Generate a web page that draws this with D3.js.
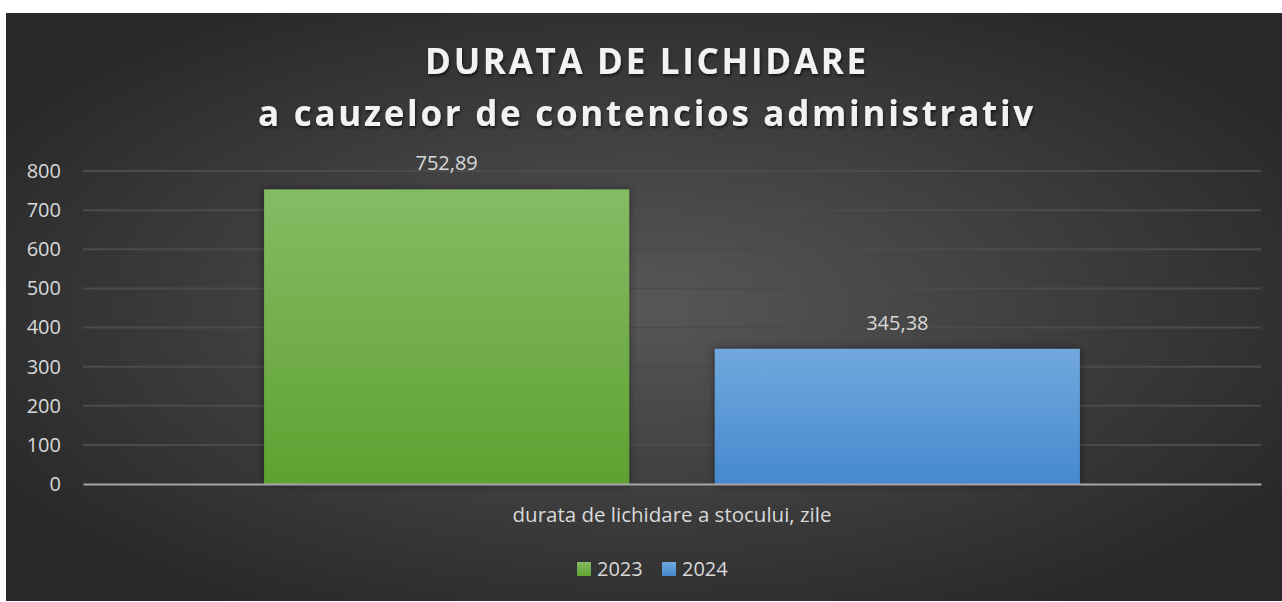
<!DOCTYPE html>
<html lang="ro">
<meta charset="utf-8">
<head>
    <title>Durata de lichidare</title>
    <script src="https://d3js.org/d3.v7.min.js"></script>
    <style>
        body { margin: 0; background: #fff; }
        svg { display: block; }
    </style>
</head>
<body>
    <div id="plot"></div>
    <script>
        // data
        var categories = ["durata de lichidare a stocului, zile"];
        var seriesNames = ["2023", "2024"];
        var values2023 = [752.89];
        var values2024 = [345.38];
        var yTicks = [0, 100, 200, 300, 400, 500, 600, 700, 800];
        var titleLines = ["DURATA DE LICHIDARE", "a cauzelor de contencios administrativ"];

        var colors = { "2023": ["#85bb64", "#5fa131"], "2024": ["#70a8dd", "#4689cf"] };

        var W = 1282, H = 602;
        var chart = { x: 6, y: 13, w: 1276, h: 588 };
        var margin = { top: 171, left: 83, right: 21, bottom: 118 };
        var width = W - margin.left - margin.right,
            height = H - margin.top - margin.bottom;

        var svg = d3.select("#plot").append("svg")
            .attr("width", W).attr("height", H);

        var defs = svg.append("defs");
        var bg = defs.append("radialGradient").attr("id", "bg")
            .attr("cx", "0.5").attr("cy", "0.5").attr("r", "0.6");
        bg.append("stop").attr("offset", "0%").attr("stop-color", "#575757");
        bg.append("stop").attr("offset", "100%").attr("stop-color", "#282828");

        seriesNames.forEach(function (s) {
            var g = defs.append("linearGradient").attr("id", "g" + s)
                .attr("x1", 0).attr("y1", 0).attr("x2", 0).attr("y2", 1);
            g.append("stop").attr("offset", "0%").attr("stop-color", colors[s][0]);
            g.append("stop").attr("offset", "100%").attr("stop-color", colors[s][1]);
        });

        var shadow = defs.append("filter").attr("id", "shadow")
            .attr("x", "-10%").attr("y", "-10%").attr("width", "120%").attr("height", "120%");
        shadow.append("feDropShadow").attr("dx", 0).attr("dy", 0)
            .attr("stdDeviation", 4).attr("flood-color", "#000").attr("flood-opacity", 0.45);

        var tshadow = defs.append("filter").attr("id", "tshadow");
        tshadow.append("feDropShadow").attr("dx", 1).attr("dy", 2)
            .attr("stdDeviation", 1.5).attr("flood-color", "#000").attr("flood-opacity", 0.6);

        svg.append("rect")
            .attr("x", chart.x).attr("y", chart.y)
            .attr("width", chart.w).attr("height", chart.h)
            .attr("fill", "url(#bg)");

        // title
        svg.append("g").selectAll("text")
            .data(titleLines)
            .join("text")
            .attr("x", 647)
            .attr("y", function (d, i) { return 74 + i * 52; })
            .attr("text-anchor", "middle")
            .attr("font-family", "'Open Sans', sans-serif")
            .attr("font-weight", "bold")
            .attr("font-size", 35)
            .attr("letter-spacing", 2.7)
            .attr("fill", "#f2f2f2")
            .attr("filter", "url(#tshadow)")
            .text(function (d) { return d; });

        var g = svg.append("g")
            .attr("transform", "translate(" + margin.left + "," + margin.top + ")");

        var x0 = d3.scaleBand().domain(categories).range([0, width]).paddingInner(0).paddingOuter(0.222);
        var x1 = d3.scaleBand().domain(seriesNames).range([0, x0.bandwidth()]).paddingInner(0.19).paddingOuter(0);
        var y = d3.scaleLinear().domain([0, 800]).range([height, 0]);

        // gridlines
        g.append("g").selectAll("line")
            .data(yTicks.slice(1))
            .join("line")
            .attr("x1", 0).attr("x2", width)
            .attr("y1", function (d) { return y(d); })
            .attr("y2", function (d) { return y(d); })
            .attr("stroke", "#4b4b4b")
            .attr("stroke-width", 2);

        // y axis
        var yAxis = g.append("g")
            .call(d3.axisLeft(y).tickValues(yTicks).tickSize(0).tickPadding(22));
        yAxis.select(".domain").remove();
        yAxis.selectAll("text")
            .attr("font-family", "'Open Sans', sans-serif")
            .attr("font-size", 20)
            .attr("fill", "#d9d9d9");

        var rows = categories.map(function (c, i) {
            return { cat: c, vals: [{ s: "2023", v: values2023[i] }, { s: "2024", v: values2024[i] }] };
        });

        var groups = g.selectAll(".grp")
            .data(rows).join("g")
            .attr("transform", function (d) { return "translate(" + x0(d.cat) + ",0)"; });

        groups.selectAll("rect")
            .data(function (d) { return d.vals; })
            .join("rect")
            .attr("x", function (d) { return x1(d.s); })
            .attr("y", function (d) { return y(d.v); })
            .attr("width", x1.bandwidth())
            .attr("height", function (d) { return height - y(d.v); })
            .attr("fill", function (d) { return "url(#g" + d.s + ")"; })
            .attr("filter", "url(#shadow)");

        groups.selectAll(".lbl")
            .data(function (d) { return d.vals; })
            .join("text")
            .attr("x", function (d) { return x1(d.s) + x1.bandwidth() / 2; })
            .attr("y", function (d) { return y(d.v) - 19; })
            .attr("text-anchor", "middle")
            .attr("font-family", "'Open Sans', sans-serif")
            .attr("font-size", 20)
            .attr("fill", "#d9d9d9")
            .text(function (d) { return d.v.toFixed(2).replace(".", ","); });

        // x axis
        var xAxis = g.append("g")
            .attr("transform", "translate(0," + height + ")")
            .call(d3.axisBottom(x0).tickSize(0).tickPadding(23));
        xAxis.select(".domain")
            .attr("stroke", "#a6a6a6")
            .attr("stroke-width", 2);
        xAxis.selectAll("text")
            .attr("font-family", "'Open Sans', sans-serif")
            .attr("font-size", 20.5)
            .attr("fill", "#d9d9d9");

        // legend
        var legend = svg.append("g").attr("transform", "translate(577,569)");
        var item = legend.selectAll("g")
            .data(seriesNames).join("g")
            .attr("transform", function (d, i) { return "translate(" + i * 85 + ",0)"; });
        item.append("rect")
            .attr("x", 0).attr("y", -7)
            .attr("width", 14).attr("height", 14)
            .attr("fill", function (d) { return "url(#g" + d + ")"; });
        item.append("text")
            .attr("x", 20).attr("y", 0)
            .attr("dy", "0.35em")
            .attr("font-family", "'Open Sans', sans-serif")
            .attr("font-size", 20)
            .attr("fill", "#d9d9d9")
            .text(function (d) { return d; });
    </script>
</body>
</html>
